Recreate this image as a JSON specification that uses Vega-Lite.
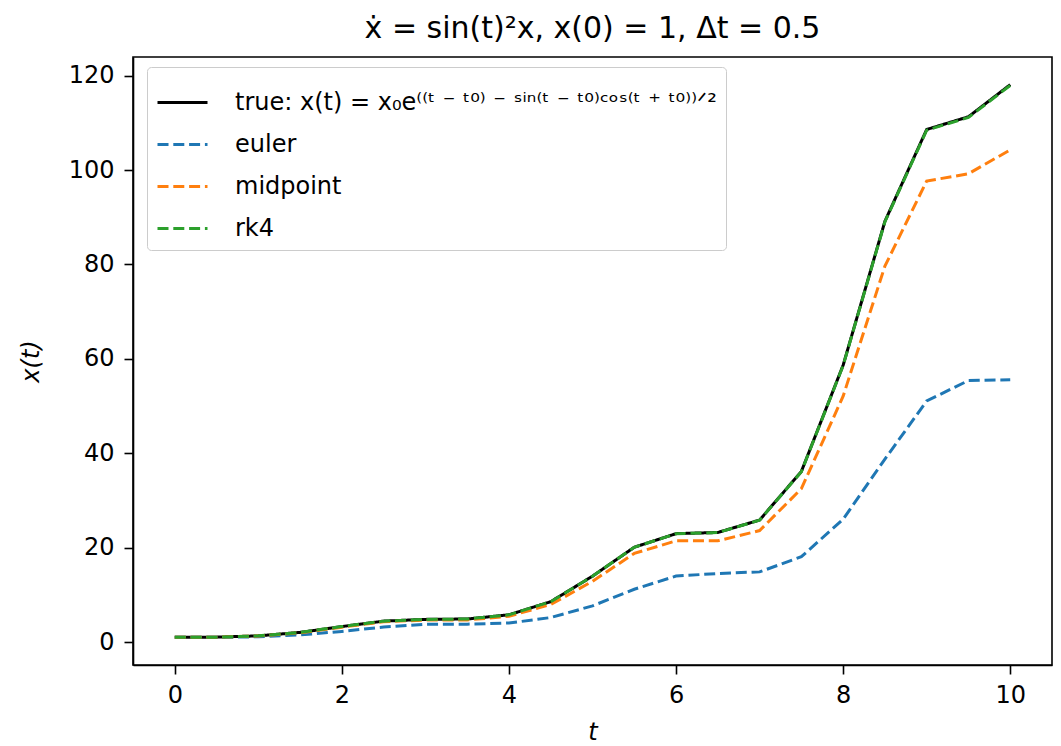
{
  "$schema": "https://vega.github.io/schema/vega-lite/v6.json",
  "width": 919,
  "height": 608,
  "autosize": {"type": "none"},
  "padding": {"left": 133, "top": 57, "right": 9, "bottom": 81},
  "background": "white",
  "title": {
    "text": "ẋ = sin(t)²x, x(0) = 1, Δt = 0.5",
    "font": "DejaVu Sans",
    "fontSize": 30,
    "fontWeight": "normal",
    "color": "black",
    "anchor": "middle",
    "offset": 13
  },
  "config": {
    "view": {"stroke": "black", "strokeWidth": 1.6},
    "font": "DejaVu Sans",
    "axis": {
      "grid": false,
      "domainColor": "black",
      "domainWidth": 1.6,
      "tickColor": "black",
      "tickWidth": 1.6,
      "tickSize": 9,
      "labelFont": "DejaVu Sans",
      "labelFontSize": 24,
      "labelColor": "black",
      "titleFont": "DejaVu Sans",
      "titleFontSize": 24,
      "titleFontWeight": "normal",
      "titleFontStyle": "italic",
      "titleColor": "black"
    }
  },
  "data": {
    "values": [
      {"t": 0, "x": 1, "series": "true"},
      {"t": 0.5, "x": 1.04, "series": "true"},
      {"t": 1, "x": 1.313, "series": "true"},
      {"t": 1.5, "x": 2.044, "series": "true"},
      {"t": 2, "x": 3.284, "series": "true"},
      {"t": 2.5, "x": 4.436, "series": "true"},
      {"t": 3, "x": 4.806, "series": "true"},
      {"t": 3.5, "x": 4.883, "series": "true"},
      {"t": 4, "x": 5.77, "series": "true"},
      {"t": 4.5, "x": 8.56, "series": "true"},
      {"t": 5, "x": 13.96, "series": "true"},
      {"t": 5.5, "x": 20.09, "series": "true"},
      {"t": 6, "x": 22.97, "series": "true"},
      {"t": 6.5, "x": 23.22, "series": "true"},
      {"t": 7, "x": 25.85, "series": "true"},
      {"t": 7.5, "x": 36.14, "series": "true"},
      {"t": 8, "x": 58.66, "series": "true"},
      {"t": 8.5, "x": 89.15, "series": "true"},
      {"t": 9, "x": 108.6, "series": "true"},
      {"t": 9.5, "x": 111.3, "series": "true"},
      {"t": 10, "x": 118.1, "series": "true"},

      {"t": 0, "x": 1, "series": "euler"},
      {"t": 0.5, "x": 1, "series": "euler"},
      {"t": 1, "x": 1.115, "series": "euler"},
      {"t": 1.5, "x": 1.51, "series": "euler"},
      {"t": 2, "x": 2.26, "series": "euler"},
      {"t": 2.5, "x": 3.19, "series": "euler"},
      {"t": 3, "x": 3.76, "series": "euler"},
      {"t": 3.5, "x": 3.8, "series": "euler"},
      {"t": 4, "x": 4.03, "series": "euler"},
      {"t": 4.5, "x": 5.19, "series": "euler"},
      {"t": 5, "x": 7.67, "series": "euler"},
      {"t": 5.5, "x": 11.19, "series": "euler"},
      {"t": 6, "x": 13.98, "series": "euler"},
      {"t": 6.5, "x": 14.53, "series": "euler"},
      {"t": 7, "x": 14.87, "series": "euler"},
      {"t": 7.5, "x": 18.08, "series": "euler"},
      {"t": 8, "x": 26.03, "series": "euler"},
      {"t": 8.5, "x": 38.77, "series": "euler"},
      {"t": 9, "x": 51.08, "series": "euler"},
      {"t": 9.5, "x": 55.42, "series": "euler"},
      {"t": 10, "x": 55.57, "series": "euler"},

      {"t": 0, "x": 1, "series": "midpoint"},
      {"t": 0.5, "x": 1.031, "series": "midpoint"},
      {"t": 1, "x": 1.284, "series": "midpoint"},
      {"t": 1.5, "x": 1.965, "series": "midpoint"},
      {"t": 2, "x": 3.154, "series": "midpoint"},
      {"t": 2.5, "x": 4.31, "series": "midpoint"},
      {"t": 3, "x": 4.652, "series": "midpoint"},
      {"t": 3.5, "x": 4.679, "series": "midpoint"},
      {"t": 4, "x": 5.469, "series": "midpoint"},
      {"t": 4.5, "x": 7.953, "series": "midpoint"},
      {"t": 5, "x": 12.875, "series": "midpoint"},
      {"t": 5.5, "x": 18.787, "series": "midpoint"},
      {"t": 6, "x": 21.44, "series": "midpoint"},
      {"t": 6.5, "x": 21.45, "series": "midpoint"},
      {"t": 7, "x": 23.62, "series": "midpoint"},
      {"t": 7.5, "x": 32.49, "series": "midpoint"},
      {"t": 8, "x": 52.09, "series": "midpoint"},
      {"t": 8.5, "x": 79.66, "series": "midpoint"},
      {"t": 9, "x": 97.68, "series": "midpoint"},
      {"t": 9.5, "x": 99.22, "series": "midpoint"},
      {"t": 10, "x": 104.29, "series": "midpoint"},

      {"t": 0, "x": 1, "series": "rk4"},
      {"t": 0.5, "x": 1.04, "series": "rk4"},
      {"t": 1, "x": 1.313, "series": "rk4"},
      {"t": 1.5, "x": 2.043, "series": "rk4"},
      {"t": 2, "x": 3.283, "series": "rk4"},
      {"t": 2.5, "x": 4.434, "series": "rk4"},
      {"t": 3, "x": 4.804, "series": "rk4"},
      {"t": 3.5, "x": 4.881, "series": "rk4"},
      {"t": 4, "x": 5.767, "series": "rk4"},
      {"t": 4.5, "x": 8.555, "series": "rk4"},
      {"t": 5, "x": 13.95, "series": "rk4"},
      {"t": 5.5, "x": 20.07, "series": "rk4"},
      {"t": 6, "x": 22.95, "series": "rk4"},
      {"t": 6.5, "x": 23.2, "series": "rk4"},
      {"t": 7, "x": 25.82, "series": "rk4"},
      {"t": 7.5, "x": 36.09, "series": "rk4"},
      {"t": 8, "x": 58.58, "series": "rk4"},
      {"t": 8.5, "x": 89.03, "series": "rk4"},
      {"t": 9, "x": 108.45, "series": "rk4"},
      {"t": 9.5, "x": 111.15, "series": "rk4"},
      {"t": 10, "x": 117.95, "series": "rk4"}
    ]
  },
  "mark": {"type": "line", "strokeWidth": 3, "clip": true},
  "encoding": {
    "x": {
      "field": "t",
      "type": "quantitative",
      "scale": {"domain": [-0.5, 10.5], "nice": false, "zero": false},
      "axis": {"values": [0, 2, 4, 6, 8, 10], "title": "t", "labelPadding": 9, "titlePadding": 13}
    },
    "y": {
      "field": "x",
      "type": "quantitative",
      "scale": {"domain": [-4.86, 123.96], "nice": false, "zero": false},
      "axis": {"values": [0, 20, 40, 60, 80, 100, 120], "title": "x(t)", "labelPadding": 10, "titlePadding": 25}
    },
    "color": {
      "field": "series",
      "type": "nominal",
      "sort": ["true", "euler", "midpoint", "rk4"],
      "scale": {"domain": ["true", "euler", "midpoint", "rk4"], "range": ["#000000", "#1f77b4", "#ff7f0e", "#2ca02c"]},
      "legend": {
        "title": null,
        "orient": "none",
        "legendX": 14,
        "legendY": 10,
        "symbolType": "stroke",
        "symbolSize": 2500,
        "symbolStrokeWidth": 3,
        "labelFont": "DejaVu Sans",
        "labelFontSize": 24,
        "labelColor": "black",
        "labelLimit": 800,
        "labelOffset": 26,
        "rowPadding": 3,
        "padding": 9,
        "fillColor": "white",
        "strokeColor": "#cccccc",
        "cornerRadius": 4,
        "labelExpr": "datum.label == 'true' ? 'true: x(t) = x₀e⁽⁽ᵗ ⁻ ᵗ⁰⁾ ⁻ ˢⁱⁿ⁽ᵗ ⁻ ᵗ⁰⁾ᶜᵒˢ⁽ᵗ ⁺ ᵗ⁰⁾⁾ᐟ²' : datum.label"
      }
    },
    "strokeDash": {
      "field": "series",
      "type": "nominal",
      "sort": ["true", "euler", "midpoint", "rk4"],
      "scale": {"domain": ["true", "euler", "midpoint", "rk4"], "range": [[1, 0], [11, 4.8], [11, 4.8], [11, 4.8]]},
      "legend": null
    }
  }
}
